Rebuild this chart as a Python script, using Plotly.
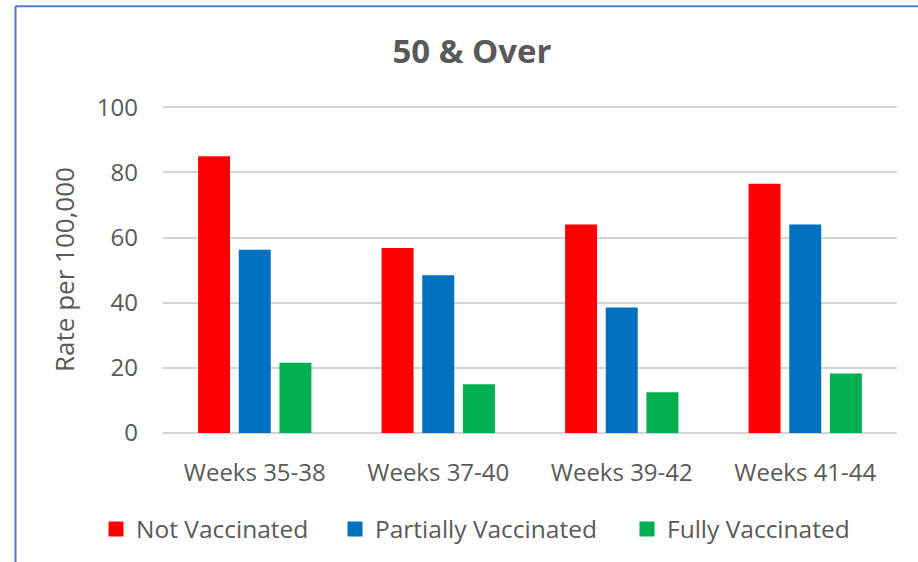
import plotly.graph_objects as go

categories = ["Weeks 35-38", "Weeks 37-40", "Weeks 39-42", "Weeks 41-44"]
not_vaccinated = [85.0, 56.8, 64.0, 76.5]
partially_vaccinated = [56.3, 48.4, 38.5, 64.0]
fully_vaccinated = [21.6, 15.0, 12.5, 18.3]
y_ticks = [0, 20, 40, 60, 80, 100]

series = [
    ("Not Vaccinated", not_vaccinated, "#FF0000", "legend"),
    ("Partially Vaccinated", partially_vaccinated, "#0070C0", "legend2"),
    ("Fully Vaccinated", fully_vaccinated, "#00B050", "legend3"),
]

FONT = "Open Sans, Noto Sans, DejaVu Sans, sans-serif"
GRAY = "#595959"

fig = go.Figure()
for name, vals, color, lg in series:
    fig.add_trace(go.Bar(x=categories, y=vals, name=name, marker_color=color,
                         marker_line_width=0, showlegend=False))
    fig.add_trace(go.Scatter(x=[None], y=[None], mode="markers", name=name,
                             marker=dict(symbol="square", size=15, color=color),
                             legend=lg, showlegend=True))

W, H = 918, 562
L, R, T, B = 163, 21, 106, 128
pw = W - L - R
ph = H - T - B

def px_x(x):
    return (x - L) / pw

def px_y(y):
    return (H - B - y) / ph

legend_common = dict(orientation="h", xanchor="left", yanchor="middle",
                     font=dict(family=FONT, size=24.5, color=GRAY),
                     bgcolor="rgba(0,0,0,0)", borderwidth=0)

fig.update_layout(
    width=W, height=H,
    margin=dict(l=L, r=R, t=T, b=B),
    paper_bgcolor="white", plot_bgcolor="white",
    barmode="group", bargap=0.335, bargroupgap=0.214,
    title=dict(text="<b>50 &amp; Over</b>", x=472 / W, xanchor="center",
               y=1 - 51 / H, yanchor="middle",
               font=dict(family=FONT, size=33, color=GRAY)),
    xaxis=dict(showgrid=False, showline=False, zeroline=False,
               tickfont=dict(family=FONT, size=24, color=GRAY),
               ticklabelstandoff=23),
    yaxis=dict(range=[0, 100.4], tickvals=y_ticks, showgrid=True,
               gridcolor="#D4D4D4", gridwidth=2, zeroline=True,
               zerolinecolor="#D4D4D4", zerolinewidth=2, showline=False,
               tickfont=dict(family=FONT, size=24, color=GRAY),
               ticklabelstandoff=24,
               title=dict(text="Rate per 100,000", standoff=14,
                          font=dict(family=FONT, size=26, color=GRAY))),
    legend=dict(x=px_x(96), y=px_y(529), **legend_common),
    legend2=dict(x=px_x(335), y=px_y(529), **legend_common),
    legend3=dict(x=px_x(627), y=px_y(529), **legend_common),
    shapes=[
        dict(type="line", xref="paper", yref="paper", x0=px_x(15.5), x1=px_x(W + 5),
             y0=px_y(6), y1=px_y(6), line=dict(color="#4A7EC8", width=2)),
        dict(type="line", xref="paper", yref="paper", x0=px_x(15.5), x1=px_x(15.5),
             y0=px_y(6), y1=px_y(H + 5), line=dict(color="#4A7EC8", width=2)),
    ],
)

fig.write_html("out.html", config={"displayModeBar": False},
               post_script="document.body.style.margin='0';document.body.style.padding='0';")
